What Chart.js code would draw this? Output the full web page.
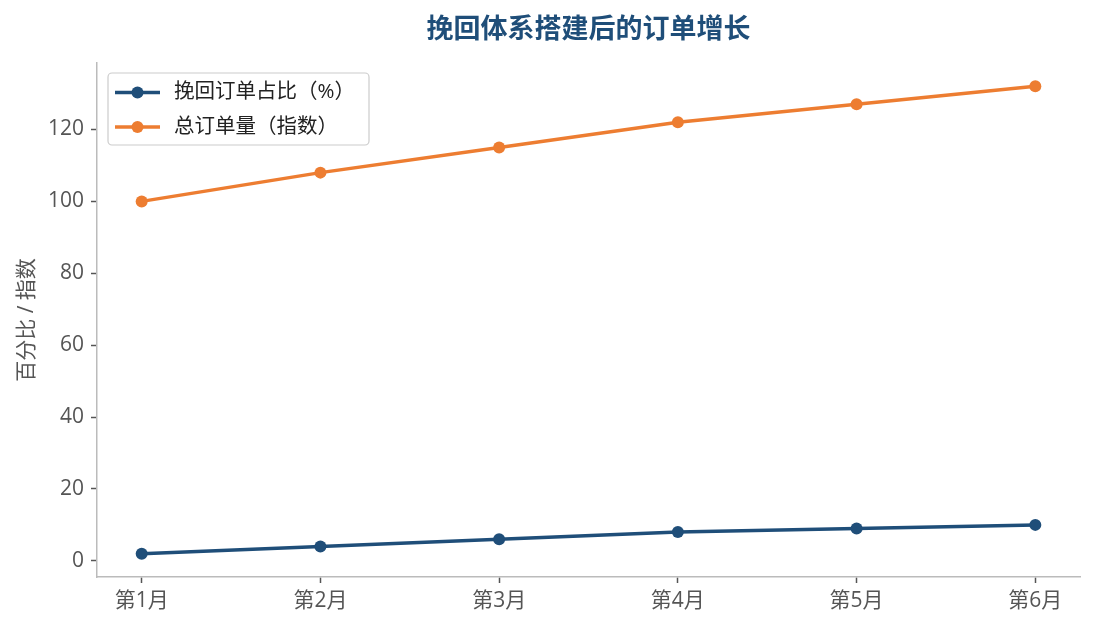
<!DOCTYPE html>
<html>
<head>
<meta charset="utf-8">
<script src="https://cdn.jsdelivr.net/npm/chart.js@4/dist/chart.umd.min.js"></script>
<style>
  html, body { margin: 0; padding: 0; background: #fff; }
  #wrap { width: 1095px; height: 630px; position: relative; }
</style>
</head>
<body>
<div id="wrap"><canvas id="chart"></canvas></div>
<script>
// data
const months = ['第1月', '第2月', '第3月', '第4月', '第5月', '第6月'];
const recoveredShare = [2, 4, 6, 8, 9, 10];
const totalOrders = [100, 108, 115, 122, 127, 132];
const yTicks = [0, 20, 40, 60, 80, 100, 120];

const chartTitle = '挽回体系搭建后的订单增长';
const yTitle = '百分比 / 指数';
const seriesNames = ['挽回订单占比（%）', '总订单量（指数）'];
const colors = ['#1f4e79', '#ed7d31'];

const FONT = '"Open Sans", "Noto Sans CJK SC", sans-serif';

function toPoints(values) {
    return values.map((v, i) => ({ x: i, y: v }));
}

// title centred over the plot area, like the original
const titlePlugin = {
    id: 'axTitle',
    afterDraw(chart) {
        const ctx = chart.ctx;
        const area = chart.chartArea;
        ctx.save();
        ctx.font = 'bold 27px "Noto Sans CJK SC", sans-serif';
        ctx.fillStyle = '#1f4e79';
        ctx.textAlign = 'center';
        ctx.textBaseline = 'middle';
        ctx.fillText(chartTitle, (area.left + area.right) / 2, 28);
        ctx.restore();
    }
};

// framed legend in the upper left of the plot, line + marker samples
const legendPlugin = {
    id: 'boxLegend',
    afterDraw(chart) {
        const ctx = chart.ctx;
        const x = 108, y = 73, w = 261, h = 72, r = 4;
        ctx.save();
        ctx.beginPath();
        ctx.roundRect(x, y, w, h, r);
        ctx.fillStyle = 'rgba(255,255,255,0.85)';
        ctx.fill();
        ctx.strokeStyle = '#cccccc';
        ctx.lineWidth = 1.2;
        ctx.stroke();

        chart.data.datasets.forEach((ds, i) => {
            const cy = 92.5 + i * 34.5;
            ctx.strokeStyle = ds.borderColor;
            ctx.lineWidth = 3.5;
            ctx.beginPath();
            ctx.moveTo(115, cy);
            ctx.lineTo(160, cy);
            ctx.stroke();
            ctx.fillStyle = ds.borderColor;
            ctx.beginPath();
            ctx.arc(137.5, cy, 6, 0, Math.PI * 2);
            ctx.fill();
            ctx.fillStyle = '#222222';
            ctx.font = '20.5px ' + FONT;
            ctx.textAlign = 'left';
            ctx.textBaseline = 'middle';
            ctx.fillText(ds.label, 174, cy);
        });
        ctx.restore();
    }
};

const ctx = document.getElementById('chart').getContext('2d');
const chart = new Chart(ctx, {
    type: 'line',
    data: {
        datasets: [{
            label: seriesNames[0],
            data: toPoints(recoveredShare),
            borderColor: colors[0],
            backgroundColor: colors[0],
            pointBackgroundColor: colors[0],
            borderWidth: 3.5,
            pointRadius: 6,
            pointBorderWidth: 0,
            tension: 0
        }, {
            label: seriesNames[1],
            data: toPoints(totalOrders),
            borderColor: colors[1],
            backgroundColor: colors[1],
            pointBackgroundColor: colors[1],
            borderWidth: 3.5,
            pointRadius: 6,
            pointBorderWidth: 0,
            tension: 0
        }]
    },
    options: {
        responsive: true,
        maintainAspectRatio: false,
        animation: false,
        layout: { padding: { left: 0, right: 15, top: 63, bottom: 0 } },
        plugins: {
            legend: { display: false },
            title: { display: false },
            tooltip: { enabled: false }
        },
        scales: {
            x: {
                type: 'linear',
                min: -0.25,
                max: 5.25,
                afterBuildTicks(scale) {
                    scale.ticks = months.map((_, i) => ({ value: i }));
                },
                afterFit(scale) { scale.height = 53; },
                grid: {
                    drawOnChartArea: false,
                    drawTicks: true,
                    tickLength: 6,
                    tickColor: '#555555',
                    tickWidth: 1.5
                },
                border: { color: '#bbbbbb', width: 1.5 },
                ticks: {
                    padding: 5,
                    color: '#555555',
                    font: { family: FONT, size: 21 },
                    maxRotation: 0,
                    autoSkip: false,
                    callback: (v) => months[v]
                }
            },
            y: {
                min: -4.5,
                max: 138.5,
                afterBuildTicks(scale) {
                    scale.ticks = yTicks.map(v => ({ value: v }));
                },
                afterFit(scale) { scale.width = 97; },
                grid: {
                    drawOnChartArea: false,
                    drawTicks: true,
                    tickLength: 6,
                    tickColor: '#555555',
                    tickWidth: 1.5
                },
                border: { color: '#bbbbbb', width: 1.5 },
                ticks: {
                    padding: 7,
                    color: '#555555',
                    font: { family: FONT, size: 21 }
                },
                title: {
                    display: true,
                    text: yTitle,
                    color: '#555555',
                    font: { family: FONT, size: 21 },
                    padding: { top: 14, bottom: 0 }
                }
            }
        }
    },
    plugins: [titlePlugin, legendPlugin]
});
</script>
</body>
</html>
